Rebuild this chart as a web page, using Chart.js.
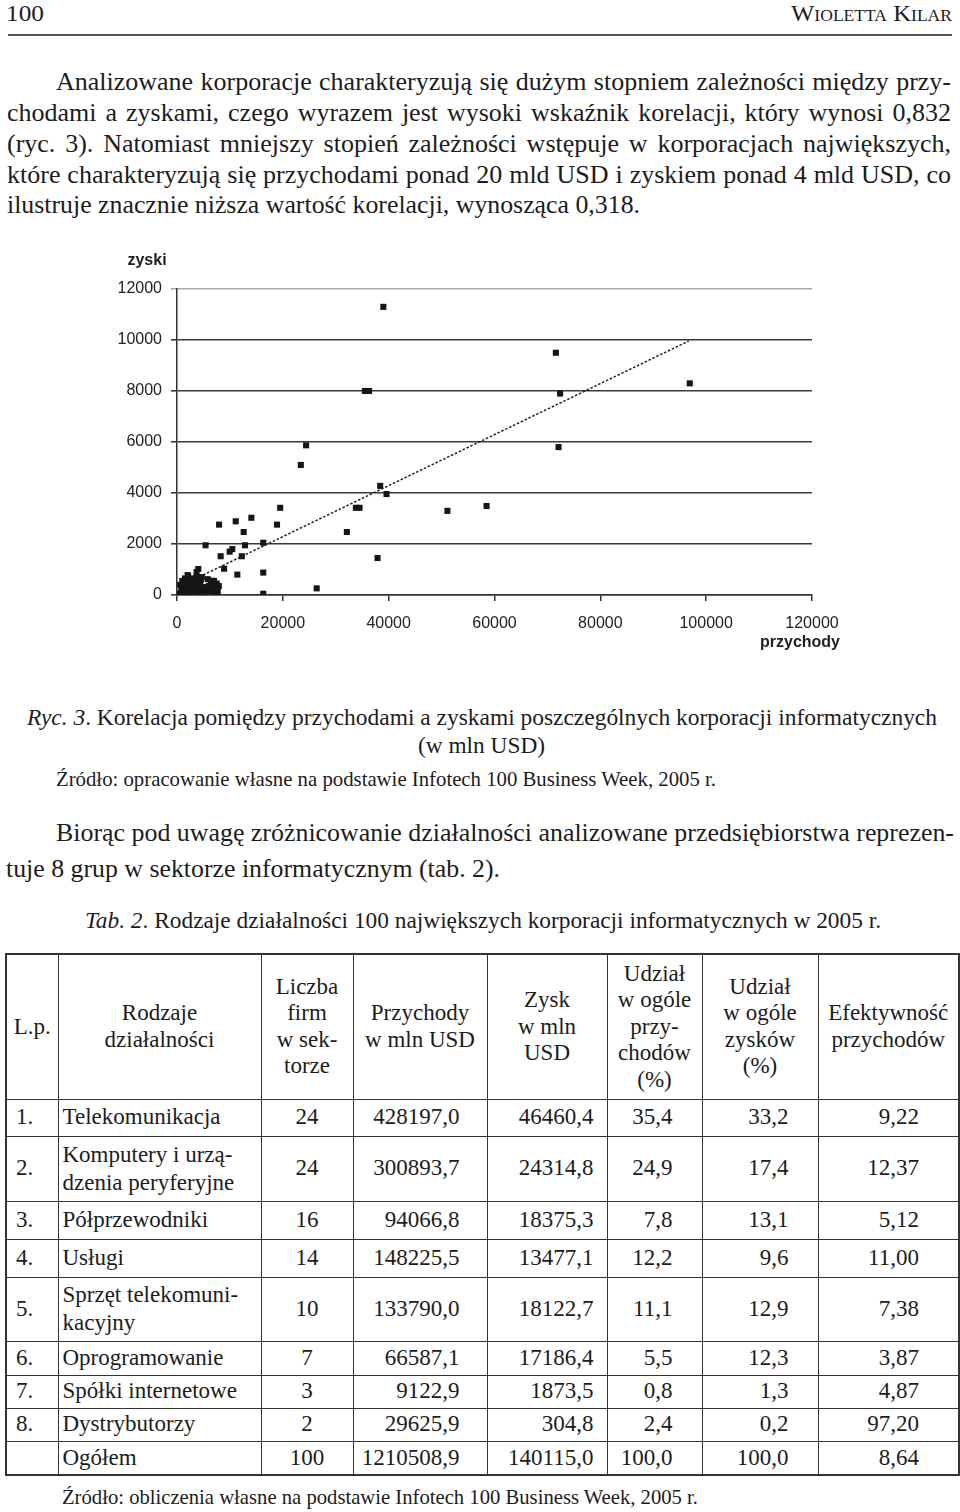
<!DOCTYPE html>
<html><head><meta charset="utf-8">
<script src="https://cdn.jsdelivr.net/npm/chart.js@4.4.0/dist/chart.umd.min.js"></script>
<style>
html,body{margin:0;padding:0;background:#fff;}
body{width:960px;height:1512px;position:relative;overflow:hidden;font-family:"Liberation Serif","Times New Roman",serif;color:#1c1c1c;}
.ln{position:absolute;white-space:nowrap;transform-origin:0 50%;line-height:1;}
.sc{font-variant:small-caps;}
#rule{position:absolute;left:8px;top:34px;width:944px;height:2px;background:#555;}
#chartBox{position:absolute;left:100px;top:245px;width:770px;height:420px;}
#tab{position:absolute;left:5px;top:953px;border-collapse:collapse;table-layout:fixed;font-size:23px;color:#1c1c1c;border:2px solid #333;}
#tab td{border:1.5px solid #333;padding:0;vertical-align:middle;line-height:26.5px;white-space:nowrap;}
#tab tr.hd td{text-align:center;}
#tab td.c0{padding-left:9px;text-align:left;}
#tab td.c1{padding-left:4px;text-align:left;}
#tab td.c1.two{line-height:28px;}
#tab td.c2{text-align:center;}
#tab td.c3{text-align:right;padding-right:27px;}
#tab td.c4{text-align:right;padding-right:13px;}
#tab td.c5{text-align:right;padding-right:29px;}
#tab td.c6{text-align:right;padding-right:29px;}
#tab td.c7{text-align:right;padding-right:39px;}
</style></head><body>

<div class="ln" data-x="6" data-w="38" data-y="13" data-fs="24">100</div>
<div class="ln sc" data-x="791" data-w="161" data-y="13" data-fs="24">Wioletta Kilar</div>
<div id="rule"></div>

<div class="ln" data-j="1" data-x="56" data-w="895" data-y="82" data-fs="26">Analizowane korporacje charakteryzują się dużym stopniem zależności między przy-</div>
<div class="ln" data-j="1" data-x="7" data-w="944" data-y="113" data-fs="26">chodami a zyskami, czego wyrazem jest wysoki wskaźnik korelacji, który wynosi 0,832</div>
<div class="ln" data-j="1" data-x="7" data-w="944" data-y="144" data-fs="26">(ryc. 3). Natomiast mniejszy stopień zależności wstępuje w korporacjach największych,</div>
<div class="ln" data-j="1" data-x="7" data-w="944" data-y="175" data-fs="26">które charakteryzują się przychodami ponad 20 mld USD i zyskiem ponad 4 mld USD, co</div>
<div class="ln" data-x="7" data-w="633" data-y="205" data-fs="26">ilustruje znacznie niższa wartość korelacji, wynosząca 0,318.</div>

<div id="chartBox"><canvas id="c" width="770" height="420"></canvas></div>

<div class="ln" data-x="27" data-w="910" data-y="717" data-fs="24"><i>Ryc. 3</i>. Korelacja pomiędzy przychodami a zyskami poszczególnych korporacji informatycznych</div>
<div class="ln" data-x="418" data-w="127" data-y="745" data-fs="24">(w mln USD)</div>
<div class="ln" data-x="56" data-w="660" data-y="779" data-fs="21">Źródło: opracowanie własne na podstawie Infotech 100 Business Week, 2005 r.</div>

<div class="ln" data-j="1" data-x="56" data-w="898" data-y="833" data-fs="26">Biorąc pod uwagę zróżnicowanie działalności analizowane przedsiębiorstwa reprezen-</div>
<div class="ln" data-x="6" data-w="494" data-y="869" data-fs="26">tuje 8 grup w sektorze informatycznym (tab. 2).</div>

<div class="ln" data-x="85" data-w="796" data-y="920" data-fs="24"><i>Tab. 2</i>. Rodzaje działalności 100 największych korporacji informatycznych w 2005 r.</div>

<table id="tab">
<colgroup><col style="width:52px"><col style="width:203px"><col style="width:92px"><col style="width:134px"><col style="width:120px"><col style="width:95px"><col style="width:116px"><col style="width:141px"></colgroup>
<tr class="hd" style="height:145px"><td>L.p.</td><td>Rodzaje<br>działalności</td><td>Liczba<br>firm<br>w sek-<br>torze</td><td>Przychody<br>w mln USD</td><td>Zysk<br>w mln<br>USD</td><td>Udział<br>w ogóle<br>przy-<br>chodów<br>(%)</td><td>Udział<br>w ogóle<br>zysków<br>(%)</td><td>Efektywność<br>przychodów</td></tr>
<tr style="height:37px"><td class="c0">1.</td><td class="c1">Telekomunikacja</td><td class="c2">24</td><td class="c3">428197,0</td><td class="c4">46460,4</td><td class="c5">35,4</td><td class="c6">33,2</td><td class="c7">9,22</td></tr>
<tr style="height:65px"><td class="c0">2.</td><td class="c1 two">Komputery i urzą-<br>dzenia peryferyjne</td><td class="c2">24</td><td class="c3">300893,7</td><td class="c4">24314,8</td><td class="c5">24,9</td><td class="c6">17,4</td><td class="c7">12,37</td></tr>
<tr style="height:38px"><td class="c0">3.</td><td class="c1">Półprzewodniki</td><td class="c2">16</td><td class="c3">94066,8</td><td class="c4">18375,3</td><td class="c5">7,8</td><td class="c6">13,1</td><td class="c7">5,12</td></tr>
<tr style="height:38px"><td class="c0">4.</td><td class="c1">Usługi</td><td class="c2">14</td><td class="c3">148225,5</td><td class="c4">13477,1</td><td class="c5">12,2</td><td class="c6">9,6</td><td class="c7">11,00</td></tr>
<tr style="height:64px"><td class="c0">5.</td><td class="c1 two">Sprzęt telekomuni-<br>kacyjny</td><td class="c2">10</td><td class="c3">133790,0</td><td class="c4">18122,7</td><td class="c5">11,1</td><td class="c6">12,9</td><td class="c7">7,38</td></tr>
<tr style="height:34px"><td class="c0">6.</td><td class="c1">Oprogramowanie</td><td class="c2">7</td><td class="c3">66587,1</td><td class="c4">17186,4</td><td class="c5">5,5</td><td class="c6">12,3</td><td class="c7">3,87</td></tr>
<tr style="height:33px"><td class="c0">7.</td><td class="c1">Spółki internetowe</td><td class="c2">3</td><td class="c3">9122,9</td><td class="c4">1873,5</td><td class="c5">0,8</td><td class="c6">1,3</td><td class="c7">4,87</td></tr>
<tr style="height:33px"><td class="c0">8.</td><td class="c1">Dystrybutorzy</td><td class="c2">2</td><td class="c3">29625,9</td><td class="c4">304,8</td><td class="c5">2,4</td><td class="c6">0,2</td><td class="c7">97,20</td></tr>
<tr style="height:34px"><td class="c0"></td><td class="c1">Ogółem</td><td class="c2">100</td><td class="c3">1210508,9</td><td class="c4">140115,0</td><td class="c5">100,0</td><td class="c6">100,0</td><td class="c7">8,64</td></tr>
</table>

<div class="ln" data-x="62" data-w="636" data-y="1497" data-fs="21">Źródło: obliczenia własne na podstawie Infotech 100 Business Week, 2005 r.</div>

<script>
// ---- chart data ----
const revenues = [
  39000, 71600, 35500, 36300, 96900, 72400, 72100, 38400, 39600, 33800,
  34500, 51100, 58500, 24400, 23400, 19500, 14050, 11100, 7950, 18900,
  12600, 32100, 5400, 12850, 16300, 10450, 9950, 8250, 12250, 8900,
  11400, 16300, 16300, 26400, 37900, 4030,
  500, 800, 1000, 1200, 1500, 1500, 1800, 2000, 2100, 2200,
  2500, 2600, 2800, 3000, 3000, 3200, 3400, 3500, 3700, 3800,
  4000, 4300, 4500, 4600, 4700, 4900, 5000, 5200, 5500, 5800,
  5800, 6200, 6400, 6600, 6800, 7000, 7200, 7500, 7700, 7900,
  600, 1000, 1300, 2300, 2700, 3300, 3600, 4200, 4400, 5300,
  6000, 7300, 900, 1700, 2000, 3700, 6600
];
const profits = [
  11300, 9500, 8000, 8000, 8300, 7900, 5800, 4280, 3960, 3420,
  3420, 3300, 3490, 5870, 5100, 3420, 3030, 2890, 2760, 2760,
  2470, 2470, 1950, 1950, 2050, 1800, 1700, 1520, 1520, 1030,
  800, 880, 50, 260, 1450, 1020,
  50, 150, 300, 100, 450, 650, 250, 500, 750, 100,
  350, 600, 200, 450, 650, 150, 550, 300, 700, 100,
  450, 250, 600, 150, 700, 300, 100, 250, 150, 300,
  620, 200, 450, 150, 350, 550, 250, 450, 150, 350,
  400, 550, 250, 300, 400, 350, 450, 550, 400, 300,
  350, 100, 200, 50, 780, 900, 560
];
const trendX = [2000, 96700];
const trendY = [490, 9960];
const xTickValues = [0, 20000, 40000, 60000, 80000, 100000, 120000];
const yTickValues = [0, 2000, 4000, 6000, 8000, 10000, 12000];
const xTitle = 'przychody';
const yTitle = 'zyski';

// ---- text placement: justify full lines, scale-fit the others ----
function fitLines(){
  document.querySelectorAll('.ln').forEach(el=>{
    const x=+el.dataset.x, w=+el.dataset.w, y=+el.dataset.y, fs=+el.dataset.fs;
    el.style.fontSize=fs+'px';
    el.style.left=x+'px';
    el.style.top=(y-fs/2)+'px';
    el.style.transform='none';
    el.style.width='auto';
    el.style.whiteSpace='nowrap';
    el.style.textAlign='left';
    el.style.textAlignLast='auto';
    const nat=el.getBoundingClientRect().width;
    if(el.dataset.j==='1' && nat<=w){
      el.style.whiteSpace='normal';
      el.style.width=w+'px';
      el.style.textAlign='justify';
      el.style.textAlignLast='justify';
    } else if(nat>0){
      el.style.transform='scaleX('+(w/nat)+')';
    }
  });
}
fitLines();
if(document.fonts && document.fonts.ready) document.fonts.ready.then(fitLines);

// ---- chart ----
const axisTitles = {
  id:'axisTitles',
  afterDraw(c){
    const {ctx, chartArea:a} = c;
    ctx.save();
    ctx.font = 'bold 16px "Liberation Sans", Arial, sans-serif';
    ctx.fillStyle = '#222';
    ctx.textAlign = 'center';
    ctx.textBaseline = 'middle';
    ctx.fillText(yTitle, a.left-30, a.top-28);
    ctx.fillText(xTitle, a.right-12, a.bottom+48);
    ctx.restore();
  }
};
const whiteBg = {
  id:'whiteBg',
  beforeDraw(c){const ctx=c.ctx;ctx.save();ctx.fillStyle='#fff';ctx.fillRect(0,0,c.width,c.height);ctx.restore();}
};

new Chart(document.getElementById('c').getContext('2d'), {
  type:'scatter',
  data:{
    datasets:[
      {
        type:'scatter',
        data: revenues.map((x,i)=>({x:x, y:profits[i]})),
        pointStyle:'rect', pointRadius:4.3, pointHoverRadius:4.3,
        backgroundColor:'#161616', borderColor:'#161616', borderWidth:0,
        order:0
      },
      {
        type:'line',
        data: trendX.map((x,i)=>({x:x, y:trendY[i]})),
        borderColor:'#222', borderWidth:1.5, borderDash:[2.5,1.8],
        pointRadius:0, fill:false, tension:0,
        order:1
      }
    ]
  },
  options:{
    responsive:false, animation:false, devicePixelRatio:1,
    layout:{padding:{left:0,right:58,top:44,bottom:30}},
    plugins:{legend:{display:false}, tooltip:{enabled:false}},
    scales:{
      x:{
        type:'linear', min:0, max:120000,
        afterBuildTicks:s=>{s.ticks=xTickValues.map(v=>({value:v}));},
        ticks:{font:{family:'"Liberation Sans", Arial, sans-serif', size:16}, color:'#222', padding:13, maxRotation:0, autoSkip:false, callback:v=>String(v)},
        grid:{drawOnChartArea:false, drawTicks:true, tickLength:6, color:'#333', lineWidth:1.5},
        border:{display:true, color:'#333', width:1.5},
        afterFit:s=>{s.height=40;}
      },
      y:{
        type:'linear', min:0, max:12000,
        afterBuildTicks:s=>{s.ticks=yTickValues.map(v=>({value:v}));},
        ticks:{font:{family:'"Liberation Sans", Arial, sans-serif', size:16}, color:'#222', padding:9, autoSkip:false, callback:v=>String(v)},
        grid:{drawTicks:true, tickLength:6, lineWidth:1.6, color:ctx=>(ctx.tick && ctx.tick.value===12000)?'#a8a8a8':'#3a3a3a'},
        border:{display:true, color:'#333', width:1.5},
        afterFit:s=>{s.width=77;}
      }
    }
  },
  plugins:[whiteBg, axisTitles]
});
</script>
</body></html>
